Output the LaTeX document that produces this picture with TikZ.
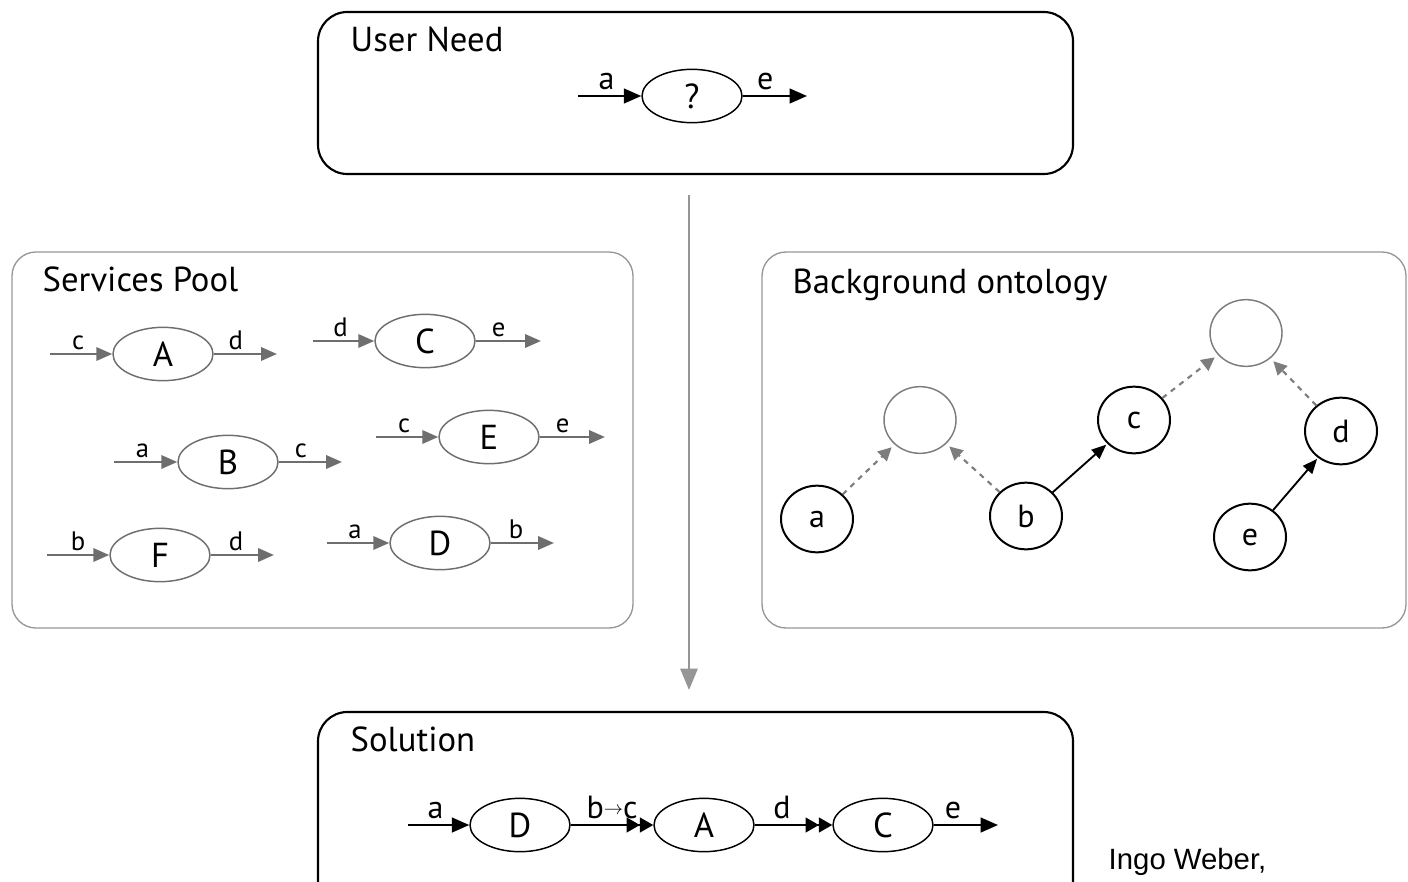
\documentclass[tikz,border=0pt]{standalone}
\usepackage{fontspec}
\setmainfont{PT Sans}
\newfontfamily\arialfont{Liberation Sans}
\usetikzlibrary{arrows.meta,shapes.geometric}

\definecolor{svgray}{RGB}{110,110,110}
\definecolor{boxgray}{RGB}{150,150,150}
\definecolor{ontgray}{RGB}{125,125,125}

\tikzset{
  bigbox/.style={draw=black, line width=1.6pt, rounded corners=22pt},
  poolbox/.style={draw=boxgray, line width=1pt, rounded corners=18pt},
  boxtitle/.style={anchor=base west, font=\fontsize{26}{28}\selectfont},
  svc/.style={ellipse, draw, line width=1.1pt, minimum width=75pt, minimum height=40pt,
    inner sep=0pt, font=\fontsize{26}{28}\selectfont},
  svcgray/.style={svc, draw=svgray},
  iolabel/.style={font=\fontsize{24}{26}\selectfont, above, inner sep=0pt, yshift=4pt},
  smlabel/.style={font=\fontsize{20}{22}\selectfont, above, inner sep=0pt, yshift=2.5pt, text=black},
  flow/.style={draw=black, line width=1.6pt, -{Triangle[length=13pt,width=11pt]}},
  flowtwo/.style={draw=black, line width=1.6pt,
    -{Triangle[length=10pt,width=11pt]Triangle[length=10pt,width=11pt]}},
  svarr/.style={draw=svgray, line width=1.9pt, -{Triangle[length=12pt,width=10pt]}},
  concept/.style={ellipse, draw=black, line width=1.5pt, minimum width=54pt,
    minimum height=50pt, inner sep=0pt, font=\fontsize{24}{26}\selectfont},
  superc/.style={ellipse, draw=ontgray, line width=1.1pt, minimum width=54pt,
    minimum height=50pt, inner sep=0pt},
  subarr/.style={draw=ontgray, line width=1.6pt, dash pattern=on 4pt off 4pt,
    -{Triangle[length=10pt,width=10pt]}, shorten >=3pt},
  relarr/.style={draw=black, line width=1.4pt, -{Triangle[length=11pt,width=9pt]}, shorten >=1pt},
  mainflow/.style={draw=boxgray, line width=1.3pt, -{Triangle[length=16pt,width=13pt]}}
}

\begin{document}
\begin{tikzpicture}[x=0.75pt,y=-0.75pt]
\useasboundingbox (0,0) rectangle (1408,881);

% ---------- frames ----------
\draw[bigbox] (318,12) rectangle (1073,174);
\node[boxtitle] (tneed) at (346,51) {User Need};

\draw[poolbox] (12,252) rectangle (633,628);
\node[boxtitle] (tpool) at (38,291) {Services Pool};

\draw[poolbox] (762,252) rectangle (1406,628);
\node[boxtitle] (tonto) at (788,293) {Background ontology};

\draw[bigbox] (318,712) rectangle (1073,910);
\node[boxtitle] (tsol) at (346,751) {Solution};

% ---------- main flow ----------
\coordinate (flowtop) at (689,195);
\coordinate (flowbot) at (689,690);
\draw[mainflow] (flowtop) -- (flowbot);

% ---------- user need ----------
\node[svc] (q) at (692,96) {?};
\coordinate (qin) at (578,96);
\coordinate (qout) at (807,96);
\draw[flow] (qin) -- (q.west) node[iolabel, pos=0.45] {a};
\draw[flow] (q.east) -- (qout) node[iolabel, pos=0.35] {e};

% ---------- services pool ----------
\node[svcgray] (sA) at (163,354) {A};
\coordinate (sAin) at (50,354);  \coordinate (sAout) at (277,354);
\draw[svarr] (sAin) -- (sA.west) node[smlabel, pos=0.45] {c};
\draw[svarr] (sA.east) -- (sAout) node[smlabel, pos=0.35] {d};

\node[svcgray] (sC) at (425,341) {C};
\coordinate (sCin) at (313,341); \coordinate (sCout) at (541,341);
\draw[svarr] (sCin) -- (sC.west) node[smlabel, pos=0.45] {d};
\draw[svarr] (sC.east) -- (sCout) node[smlabel, pos=0.35] {e};

\node[svcgray] (sB) at (228,462) {B};
\coordinate (sBin) at (114,462); \coordinate (sBout) at (342,462);
\draw[svarr] (sBin) -- (sB.west) node[smlabel, pos=0.45] {a};
\draw[svarr] (sB.east) -- (sBout) node[smlabel, pos=0.35] {c};

\node[svcgray] (sE) at (489,437) {E};
\coordinate (sEin) at (376,437); \coordinate (sEout) at (605,437);
\draw[svarr] (sEin) -- (sE.west) node[smlabel, pos=0.45] {c};
\draw[svarr] (sE.east) -- (sEout) node[smlabel, pos=0.35] {e};

\node[svcgray] (sF) at (160,555) {F};
\coordinate (sFin) at (47,555); \coordinate (sFout) at (274,555);
\draw[svarr] (sFin) -- (sF.west) node[smlabel, pos=0.5] {b};
\draw[svarr] (sF.east) -- (sFout) node[smlabel, pos=0.4] {d};

\node[svcgray] (sD) at (440,543) {D};
\coordinate (sDin) at (327,543); \coordinate (sDout) at (554,543);
\draw[svarr] (sDin) -- (sD.west) node[smlabel, pos=0.45] {a};
\draw[svarr] (sD.east) -- (sDout) node[smlabel, pos=0.4] {b};

% ---------- background ontology ----------
\node[concept] (ca) at (817,519) {a};
\node[concept] (cb) at (1026,516) {b};
\node[concept] (cc) at (1134,420) {c};
\node[concept] (cd) at (1341,431) {d};
\node[concept] (ce) at (1250,537) {e};
\node[superc] (sup1) at (920,420) {};
\node[superc] (sup2) at (1246,333) {};

\draw[subarr] (ca) -- (sup1);
\draw[subarr] (cb) -- (sup1);
\draw[subarr] (cc) -- (sup2);
\draw[subarr] (cd) -- (sup2);
\draw[relarr] (cb) -- (cc);
\draw[relarr] (ce) -- (cd);

% ---------- solution ----------
\node[svc] (xD) at (520,825) {D};
\node[svc] (xA) at (704,825) {A};
\node[svc] (xC) at (883,825) {C};
\coordinate (xin) at (408,825);
\coordinate (xout) at (998,825);
\draw[flow] (xin) -- (xD.west) node[iolabel, pos=0.45] {a};
\draw[flowtwo] (xD.east) -- (xA.west) node[iolabel, pos=0.5] {b\raisebox{3pt}{\fontsize{14}{14}\selectfont$\to$}c};
\draw[flowtwo] (xA.east) -- (xC.west) node[iolabel, pos=0.35] {d};
\draw[flow] (xC.east) -- (xout) node[iolabel, pos=0.3] {e};

% ---------- credit ----------
\node[anchor=base west, font=\arialfont\fontsize{22}{24}\selectfont] (credit) at (1104,869) {Ingo Weber,};
\end{tikzpicture}
\end{document}
